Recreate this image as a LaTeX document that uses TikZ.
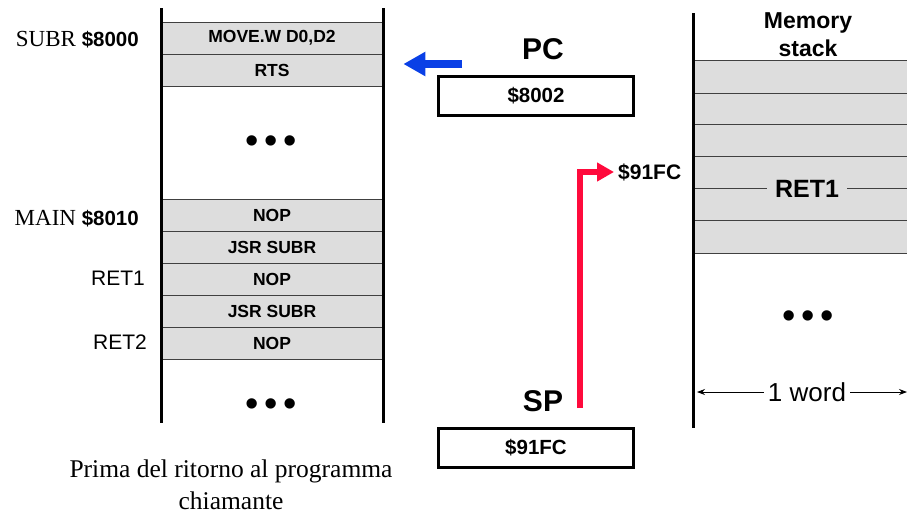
\documentclass[tikz,border=0pt]{standalone}
\usepackage{fontspec}
\setmainfont{Liberation Serif}
\setsansfont{Liberation Sans}
\usetikzlibrary{arrows.meta}
\definecolor{rowgray}{HTML}{DDDDDD}
\definecolor{pcblue}{HTML}{0A40E6}
\definecolor{spred}{HTML}{FF0A3C}
\newcommand{\threedots}{•\hspace{5.5pt}•\hspace{5.5pt}•}
\tikzset{
  row/.style={fill=rowgray, draw=black!75, line width=0.8pt, minimum width=222pt,
    minimum height=32pt, inner sep=0pt, font=\sffamily\bfseries\fontsize{17.5}{20}\selectfont},
  memline/.style={draw=black, line width=3pt},
  thinline/.style={draw=black!75, line width=0.8pt},
  dotsnode/.style={font=\sffamily\fontsize{38}{40}\selectfont, inner sep=0pt},
  regbox/.style={draw=black, line width=3pt, minimum width=195pt, minimum height=39pt,
    inner sep=0pt, font=\sffamily\bfseries\fontsize{20.5}{24}\selectfont},
  reglabel/.style={font=\sffamily\bfseries\fontsize{30}{34}\selectfont, inner sep=0pt},
  addrlabel/.style={anchor=base east, inner sep=0pt, font=\fontsize{23}{26}\selectfont},
  retlabel/.style={anchor=base east, inner sep=0pt, font=\sffamily\fontsize{21}{24}\selectfont},
}
\begin{document}
\begin{tikzpicture}[x=1pt,y=-1pt]
\useasboundingbox (0,0) rectangle (907,515);

% ---- left memory (program) ----
\node[row] (r1) at (272,38) {MOVE.W D0,D2};
\node[row] (r2) at (272,70) {RTS};
\node[row] (r3) at (272,215) {NOP};
\node[row] (r4) at (272,247) {JSR SUBR};
\node[row] (r5) at (272,279) {NOP};
\node[row] (r6) at (272,311) {JSR SUBR};
\node[row] (r7) at (272,343) {NOP};
\draw[memline] (161,8) -- (161,423);
\draw[memline] (383,8) -- (383,423);
\node[dotsnode] (d1) at (271,145) {\threedots};
\node[dotsnode] (d2) at (271,408) {\threedots};

\node[addrlabel] (subr) at (139,46.5) {SUBR {\sffamily\bfseries\fontsize{20.5}{24}\selectfont \$8000}};
\node[addrlabel] (main) at (139,225) {MAIN {\sffamily\bfseries\fontsize{20.5}{24}\selectfont \$8010}};
\node[retlabel] (ret1l) at (145,285) {RET1};
\node[retlabel] (ret2l) at (147,349.5) {RET2};

% ---- PC ----
\node[reglabel] (pc) at (543,49) {PC};
\node[regbox] (pcbox) at (536,96) {\$8002};
\coordinate (pcstart) at (462,64);
\coordinate (pcend) at ([xshift=20pt]r2.east);
\draw[pcblue, line width=8pt, -{Triangle[length=22pt,width=23pt]}] (pcstart) -- (pcend |- pcstart);

% ---- SP ----
\node[reglabel] (sp) at (543,401) {SP};
\node[regbox] (spbox) at (536,448) {\$91FC};
\node[anchor=west, inner sep=2pt, font=\sffamily\bfseries\fontsize{21}{24}\selectfont] (spaddr) at (616,172) {\$91FC};
\coordinate (spstart) at (580,408);
\draw[spred, line width=6pt, -{Triangle[length=17pt,width=18pt]}] (spstart) |- ([xshift=-2pt]spaddr.west);

% ---- memory stack ----
\fill[rowgray] (693,60) rectangle (907,253);
\foreach \yy in {60,93,124,156,188,220,253} { \draw[thinline] (693,\yy) -- (907,\yy); }
\node[fill=rowgray, inner xsep=8pt, inner ysep=2pt, font=\sffamily\bfseries\fontsize{25}{28}\selectfont] (ret1s) at (807,189) {RET1};
\draw[memline] (693,13) -- (693,428);
\node[align=center, inner sep=0pt, font=\sffamily\bfseries\fontsize{23}{28}\selectfont] (mstack) at (808,35) {Memory\\stack};
\node[dotsnode] (d3) at (808,320) {\threedots};

\coordinate (wl) at (697,392);
\coordinate (wr) at (907,392);
\draw[line width=0.8pt, {Stealth[length=8pt,width=6pt]}-{Stealth[length=8pt,width=6pt]}] (wl) -- (wr);
\node[fill=white, inner xsep=4pt, inner ysep=1pt, font=\sffamily\fontsize{26}{28}\selectfont] (word) at (807,392) {1 word};

% ---- caption ----
\node[align=center, inner sep=0pt, font=\fontsize{25.5}{32}\selectfont] (cap) at (231,485) {Prima del ritorno al programma\\chiamante};
\end{tikzpicture}
\end{document}
